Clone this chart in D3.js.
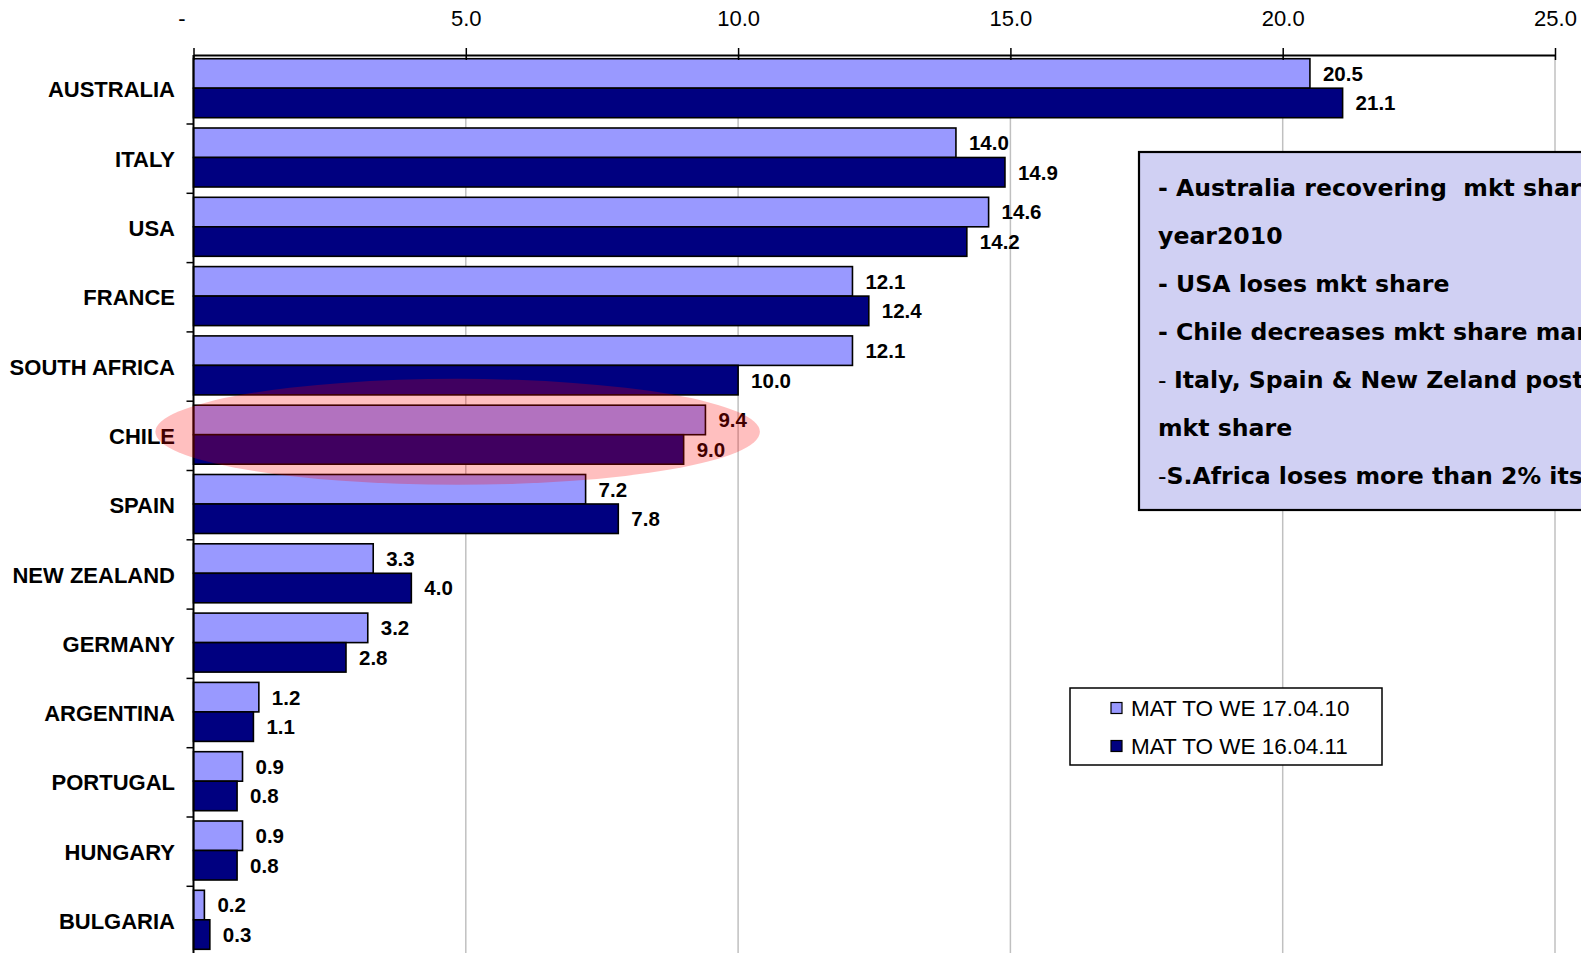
<!DOCTYPE html>
<html>
<head>
<meta charset="utf-8">
<script src="https://cdn.jsdelivr.net/npm/d3@7"></script>
<style>
  html, body { margin: 0; padding: 0; background: #ffffff; overflow: hidden; }
  svg { display: block; }
</style>
</head>
<body>
<svg id="chart" width="1581" height="953"></svg>
<script>
// Market share by country of origin, two moving-annual-total periods
const categories = ["AUSTRALIA", "ITALY", "USA", "FRANCE", "SOUTH AFRICA", "CHILE", "SPAIN",
  "NEW ZEALAND", "GERMANY", "ARGENTINA", "PORTUGAL", "HUNGARY", "BULGARIA"];
const share2010 = [20.5, 14.0, 14.6, 12.1, 12.1, 9.4, 7.2, 3.3, 3.2, 1.2, 0.9, 0.9, 0.2];
const share2011 = [21.1, 14.9, 14.2, 12.4, 10.0, 9.0, 7.8, 4.0, 2.8, 1.1, 0.8, 0.8, 0.3];
const seriesNames = ["MAT TO WE 17.04.10", "MAT TO WE 16.04.11"];
const seriesColors = ["#9999ff", "#000080"];
const xTickValues = [0, 5, 10, 15, 20, 25];
const highlighted = "CHILE";
const notes = [
  [{ t: "- Australia recovering\u00a0 mkt share", w: "bold" }],
  [{ t: "year2010", w: "bold" }],
  [{ t: "- USA loses mkt share", w: "bold" }],
  [{ t: "- Chile decreases mkt share mar", w: "bold" }],
  [{ t: "- ", w: "normal" }, { t: "Italy, Spain & New Zeland post", w: "bold" }],
  [{ t: "mkt share", w: "bold" }],
  [{ t: "-", w: "normal" }, { t: "S.Africa loses more than 2% its", w: "bold" }]
];

const svg = d3.select("#chart");
const W = 1581, H = 953;
const sans = "'Liberation Sans', Arial, sans-serif";

const x = d3.scaleLinear().domain([0, 25]).range([193.5, 1555]);
const y = d3.scaleBand().domain(categories).range([54.7, 955.6]);
const ySub = d3.scaleBand().domain([0, 1]).range([4, 63]);
const axisY = 55;

const rows = categories.map((c, i) => ({ cat: c, vals: [share2010[i], share2011[i]] }));

// vertical gridlines
svg.append("g").selectAll("line")
  .data(xTickValues.filter(d => d > 0))
  .join("line")
  .attr("x1", d => x(d)).attr("x2", d => x(d))
  .attr("y1", axisY).attr("y2", H)
  .attr("stroke", "#c0c0c0").attr("stroke-width", 1.5);

// bars
const groups = svg.append("g").selectAll("g")
  .data(rows).join("g")
  .attr("transform", d => `translate(0,${y(d.cat)})`);

groups.selectAll("rect")
  .data(d => d.vals.map((v, k) => ({ v, k })))
  .join("rect")
  .attr("x", x(0))
  .attr("y", d => ySub(d.k))
  .attr("width", d => x(d.v) - x(0))
  .attr("height", ySub.bandwidth())
  .attr("fill", d => seriesColors[d.k])
  .attr("stroke", "#000").attr("stroke-width", 1.6);

// value labels
groups.selectAll("text")
  .data(d => d.vals.map((v, k) => ({ v, k })))
  .join("text")
  .attr("x", d => x(d.v) + 13)
  .attr("y", d => ySub(d.k) + ySub.bandwidth() / 2)
  .attr("dy", "0.36em")
  .attr("font-family", sans).attr("font-weight", "bold").attr("font-size", 20.5)
  .attr("fill", "#000")
  .text(d => d.v.toFixed(1));

// top value axis
const xAxis = d3.axisTop(x)
  .tickValues(xTickValues)
  .tickSizeInner(7).tickSizeOuter(0).tickPadding(22)
  .tickFormat(d => d === 0 ? "-" : d.toFixed(1));
const gx = svg.append("g").attr("transform", `translate(0,${axisY})`).call(xAxis);
gx.select(".domain").attr("stroke", "#000").attr("stroke-width", 2);
gx.selectAll(".tick line").attr("stroke", "#000").attr("stroke-width", 1.5).attr("y2", 5).attr("y1", -7);
gx.selectAll(".tick text")
  .attr("font-family", sans).attr("font-size", 22).attr("fill", "#000")
  .attr("dy", 0)
  .attr("dx", d => d === 0 ? -12 : 0);

// left category axis
const gy = svg.append("g");
gy.append("line")
  .attr("x1", x(0)).attr("x2", x(0))
  .attr("y1", axisY).attr("y2", H)
  .attr("stroke", "#000").attr("stroke-width", 2);
gy.selectAll("line.tick")
  .data(categories.slice(1).concat([null]))
  .join("line").attr("class", "tick")
  .attr("x1", x(0) - 7).attr("x2", x(0))
  .attr("y1", d => d === null ? y.range()[1] : y(d))
  .attr("y2", d => d === null ? y.range()[1] : y(d))
  .attr("stroke", "#000").attr("stroke-width", 1.5);
gy.selectAll("text")
  .data(categories).join("text")
  .attr("x", 175)
  .attr("y", d => y(d) + y.bandwidth() / 2)
  .attr("dy", "0.37em")
  .attr("text-anchor", "end")
  .attr("font-family", sans).attr("font-weight", "bold").attr("font-size", 22)
  .attr("fill", "#000")
  .text(d => d);

// commentary box
const note = svg.append("g");
note.append("rect")
  .attr("x", 1139).attr("y", 152).attr("width", 520).attr("height", 358)
  .attr("fill", "#d0d0f3").attr("stroke", "#000").attr("stroke-width", 2.2);
const noteText = note.append("text")
  .attr("font-family", "'DejaVu Sans', Verdana, sans-serif")
  .attr("font-size", 23.6).attr("fill", "#000");
notes.forEach((line, i) => {
  const t = noteText.append("tspan").attr("x", 1158).attr("y", 196 + 48 * i);
  line.forEach((part, j) => {
    (j === 0 ? t : noteText.append("tspan"))
      .attr("font-weight", part.w)
      .text(part.t);
  });
});

// legend
const legend = svg.append("g");
legend.append("rect")
  .attr("x", 1070).attr("y", 688).attr("width", 312).attr("height", 77)
  .attr("fill", "#fff").attr("stroke", "#000").attr("stroke-width", 1.5);
const items = legend.selectAll("g.item")
  .data(seriesNames).join("g").attr("class", "item")
  .attr("transform", (d, i) => `translate(1111,${708 + 38 * i})`);
items.append("rect")
  .attr("x", 0).attr("y", -5.5).attr("width", 11).attr("height", 11)
  .attr("fill", (d, i) => seriesColors[i]).attr("stroke", "#000").attr("stroke-width", 1.2);
items.append("text")
  .attr("x", 20).attr("y", 7.5)
  .attr("font-family", sans).attr("font-size", 22.5).attr("fill", "#000")
  .text(d => d);

// highlight around the Chile bars
const hy = y(highlighted) + y.bandwidth() / 2;
svg.append("ellipse")
  .attr("cx", x(4.85)).attr("cy", hy - 4)
  .attr("rx", x(5.55) - x(0)).attr("ry", 53)
  .attr("fill", "#ff0000").attr("fill-opacity", 0.25);
</script>
</body>
</html>
